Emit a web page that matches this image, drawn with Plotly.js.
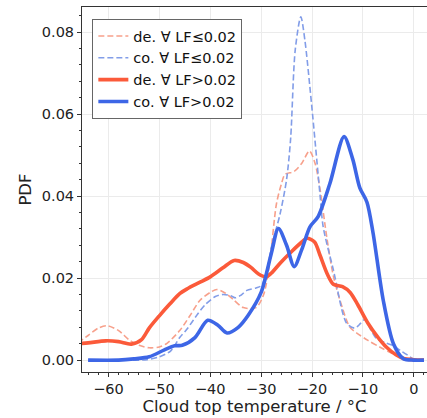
<!DOCTYPE html>
<html><head><meta charset="utf-8">
<script src="https://cdn.plot.ly/plotly-3.0.1.min.js"></script>
<style>html,body{margin:0;padding:0;background:#fff}#chart{width:427px;height:418px}</style>
</head><body><div id="chart"></div>
<script>
// de. ∀ LF≤0.02 (dashed red)
const deLowT = [-66,-64,-62,-60.3,-58,-56,-54,-52,-50,-48.5,-46,-44,-42,-40,-38.7,-37,-35.5,-33.5,-31,-29.5,-28.3,-27,-26,-25.3,-23.5,-22,-20.5,-19.4,-18.4,-17.1,-15.8,-14.5,-12.6,-11.2,-9,-6.7,-4.5,-2.7,-1,1,2];
const deLowV = [0.0042,0.006,0.0078,0.0084,0.0072,0.005,0.0036,0.003,0.0032,0.0041,0.0072,0.0108,0.0146,0.0165,0.0172,0.0163,0.0148,0.0128,0.0128,0.016,0.024,0.038,0.043,0.0453,0.046,0.048,0.051,0.048,0.0415,0.030,0.0205,0.0146,0.0081,0.0066,0.0048,0.0032,0.0018,0.0008,0.0002,0,0];
// co. ∀ LF≤0.02 (dashed blue)
const coLowT = [-64,-56,-52.4,-50,-47.8,-46,-44.6,-42.5,-41,-39,-37.5,-36,-35,-34,-32.8,-31,-29.9,-28.5,-27.9,-26.3,-25,-24.2,-23.3,-22.2,-21.4,-20.1,-18.4,-17.8,-15.8,-13.2,-11.6,-10.8,-9.6,-8.5,-7.3,-5.5,-4,-2.5,-1.2,0,1,2];
const coLowV = [0,0,0.0001,0.0008,0.0022,0.0055,0.0075,0.0112,0.0135,0.0155,0.016,0.0157,0.0152,0.0158,0.017,0.0176,0.0182,0.024,0.028,0.0355,0.044,0.054,0.0756,0.0837,0.078,0.0626,0.040,0.0325,0.022,0.009,0.0078,0.0085,0.0099,0.0075,0.0052,0.0042,0.0035,0.0022,0.0012,0.0002,0,0];
// de. ∀ LF>0.02 (solid red)
const deHighT = [-66,-64,-60.5,-58,-55.5,-53.5,-52,-50,-48,-46,-44.5,-42,-40,-37.5,-35.3,-33.5,-32,-30.5,-29,-28,-26,-24,-22,-21,-19.5,-18.4,-17,-15.8,-14,-12.5,-11,-9,-7,-5.4,-3.5,-2,0,2];
const deHighV = [0.004,0.0042,0.0047,0.0045,0.0039,0.005,0.0078,0.0108,0.0136,0.0162,0.0174,0.019,0.0203,0.0225,0.0243,0.0238,0.0226,0.021,0.0203,0.0212,0.024,0.0265,0.0288,0.0297,0.0288,0.0255,0.021,0.0185,0.0179,0.0165,0.0135,0.009,0.0055,0.0032,0.0013,0.0004,0.0001,0];
// co. ∀ LF>0.02 (solid blue)
const coHighT = [-64,-58,-55,-52,-49,-47,-45.5,-43,-40.5,-38.5,-36.7,-34.5,-32.5,-30,-28,-26.6,-25,-23.5,-22,-20.4,-18.8,-16.5,-13.7,-12,-10.6,-9.2,-8,-6,-4,-2,0,2];
const coHighV = [0,0,0.0003,0.0008,0.0025,0.0035,0.0036,0.0055,0.0097,0.0085,0.0066,0.008,0.011,0.0165,0.026,0.0321,0.028,0.0228,0.027,0.0325,0.035,0.043,0.0545,0.049,0.042,0.0385,0.031,0.0146,0.004,0.0003,0,0];

const names = ["de. \u2200 LF\u22640.02","co. \u2200 LF\u22640.02","de. \u2200 LF>0.02","co. \u2200 LF>0.02"];
const red = "#fb5a3a", blue = "#3d66e6", redL = "#f7a08b", blueL = "#829de8";

const mk = (x,y,name,color,w,dash) => ({x:x,y:y,name:name,type:"scatter",mode:"lines",
  line:{color:color,width:w,dash:dash,shape:"spline",smoothing:0.8},cliponaxis:true});
const data = [
  mk(deLowT,deLowV,names[0],redL,1.6,"6px,3px"),
  mk(coLowT,coLowV,names[1],blueL,1.6,"6px,3px"),
  mk(deHighT,deHighV,names[2],red,3.6,"solid"),
  mk(coHighT,coHighV,names[3],blue,3.6,"solid")
];
const font = {family:"DejaVu Sans, sans-serif",color:"#222"};
const layout = {
  width:427,height:418,
  margin:{l:81.5,r:0,t:7,b:46},
  paper_bgcolor:"#fff",plot_bgcolor:"#fff",
  font:font,
  showlegend:true,
  legend:{x:0.03,y:0.967,xanchor:"left",yanchor:"top",bgcolor:"#fff",bordercolor:"#666",borderwidth:1,
    font:{family:"DejaVu Sans, sans-serif",size:14.5,color:"#111"},tracegroupgap:0,itemwidth:30},
  xaxis:{range:[-65.2,2.6],tickmode:"array",tickvals:[-60,-50,-40,-30,-20,-10,0],
    ticktext:["\u221260","\u221250","\u221240","\u221230","\u221220","\u221210","0"],
    ticks:"outside",ticklen:4,tickcolor:"#333",showline:true,linecolor:"#333",linewidth:1,mirror:true,
    showgrid:true,gridcolor:"#ebebeb",zeroline:false,tickfont:{size:14.5,color:"#222"},
    minor:{dtick:2,ticks:"outside",ticklen:2,tickcolor:"#333",showgrid:false},
    title:{text:"Cloud top temperature / \u00b0C",font:{size:16.5,color:"#222"},standoff:4}},
  yaxis:{range:[-0.0029,0.0861],tickmode:"array",tickvals:[0,0.02,0.04,0.06,0.08],
    ticktext:["0.00","0.02","0.04","0.06","0.08"],
    ticks:"outside",ticklen:4,tickcolor:"#333",showline:true,linecolor:"#333",linewidth:1,mirror:false,
    showgrid:true,gridcolor:"#ebebeb",zeroline:false,tickfont:{size:14.5,color:"#222"},
    minor:{dtick:0.004,ticks:"outside",ticklen:2,tickcolor:"#333",showgrid:false},
    title:{text:"PDF",font:{size:16.5,color:"#222"},standoff:6}}
};
Plotly.newPlot("chart",data,layout,{displayModeBar:false,staticPlot:true});
</script></body></html>
